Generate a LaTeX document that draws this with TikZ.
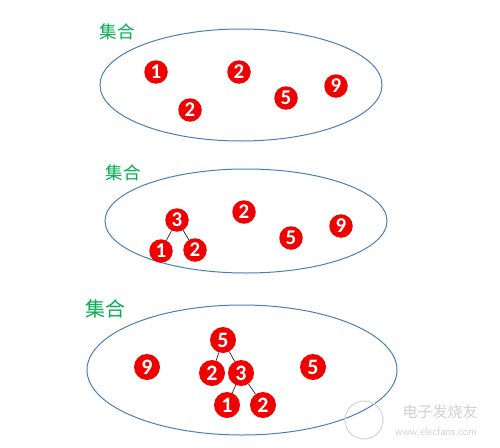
\documentclass[tikz,border=0pt]{standalone}
\usepackage{fontspec}
\setmainfont{Carlito}
\newfontfamily\cjk{Noto Sans CJK SC}
\newfontfamily\numfont{Carlito}
\definecolor{setblue}{HTML}{4A7EBB}
\definecolor{setgreen}{HTML}{00B050}
\definecolor{ballred}{HTML}{F00000}
\begin{document}
\begin{tikzpicture}[x=1pt,y=-1pt,
  setline/.style={draw=setblue,line width=1pt},
  setlabel/.style={text=setgreen,font=\cjk\fontsize{17.5}{17.5}\selectfont,inner sep=0pt},
  ball/.style={circle,fill=ballred,text=white,inner sep=0pt,minimum size=23.5pt,
    font=\numfont\bfseries\fontsize{21}{21}\selectfont},
  bigball/.style={ball,minimum size=26pt,font=\numfont\bfseries\fontsize{22}{22}\selectfont},
  treeedge/.style={draw=black!85,line width=0.7pt},
  wmark/.style={text=black!18,inner sep=0pt}]
\useasboundingbox (0,0) rectangle (500,447);
\fill[white] (0,0) rectangle (500,447);
% set 1
\draw[setline] (241,85) ellipse [x radius=141, y radius=56];
\node[setlabel] (l1) at (117,32) {集合};
\node[ball] (a1) at (156,72) {1};
\node[ball] (a2) at (239,72) {2};
\node[ball] (a3) at (190,110) {2};
\node[ball] (a4) at (286,98) {5};
\node[ball] (a5) at (336,86) {9};
% set 2
\draw[setline] (246,221) ellipse [x radius=141, y radius=52];
\node[setlabel] (l2) at (123,173) {集合};
\node[ball] (b3) at (177,220) {3};
\node[ball] (b1) at (161,251) {1};
\node[ball] (b2) at (195,250) {2};
\node[ball] (b4) at (244,212) {2};
\node[ball] (b5) at (291,238) {5};
\node[ball] (b6) at (341,226) {9};
\draw[treeedge] (b3) -- (b1);
\draw[treeedge] (b3) -- (b2);
% set 3
\draw[setline] (242,370) ellipse [x radius=155, y radius=65];
\node[setlabel,font=\cjk\fontsize{20}{20}\selectfont] (l3) at (105,309) {集合};
\node[bigball] (c5) at (223,340) {5};
\node[bigball] (c9) at (147,367) {9};
\node[bigball] (c2) at (212,373) {2};
\node[bigball] (c3) at (241,373) {3};
\node[bigball] (c1) at (227,405) {1};
\node[bigball] (c2b) at (263,405) {2};
\node[bigball] (c5b) at (313,367) {5};
\draw[treeedge] (c5) -- (c2);
\draw[treeedge] (c5) -- (c3);
\draw[treeedge] (c3) -- (c1);
\draw[treeedge] (c3) -- (c2b);
% watermark
\draw[black!15,line width=1.2pt] (364,420) circle [radius=19];
\node[wmark,font=\cjk\fontsize{15}{15}\selectfont] (w1) at (440,412) {电子发烧友};
\node[wmark,font=\sffamily\fontsize{11}{11}\selectfont] (w2) at (436,432) {www.elecfans.com};
\end{tikzpicture}
\end{document}
